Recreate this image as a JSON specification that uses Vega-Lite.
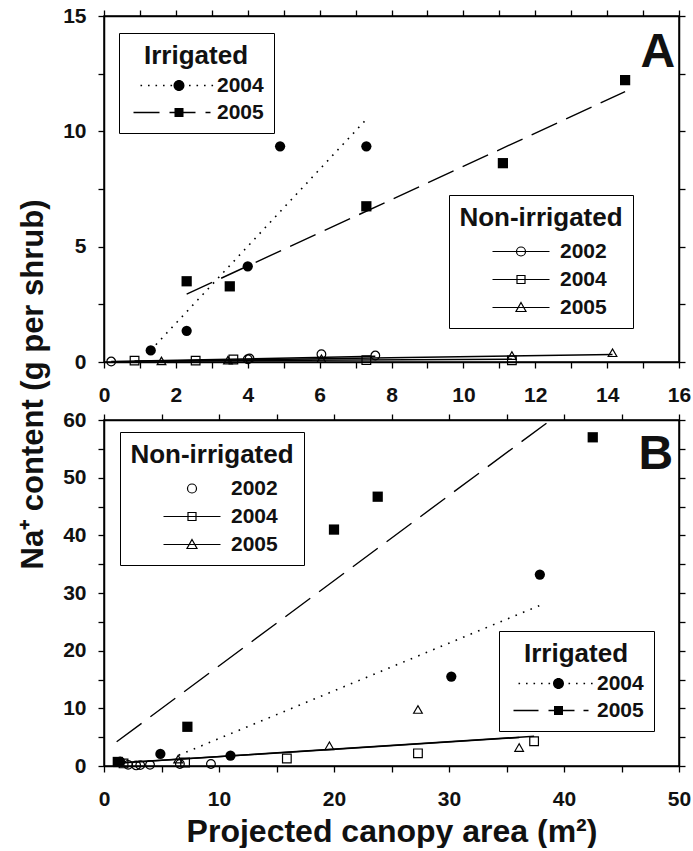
{
  "$schema": "https://vega.github.io/schema/vega-lite/v6.json",
  "background": "white",
  "padding": {"left": 16, "top": 4, "right": 5, "bottom": 0},
  "datasets": {
    "a_irr_pts": [
      {"year": "2004", "area": 1.3, "na": 0.5},
      {"year": "2004", "area": 2.3, "na": 1.35},
      {"year": "2004", "area": 4.0, "na": 4.15},
      {"year": "2004", "area": 4.9, "na": 9.35},
      {"year": "2004", "area": 7.3, "na": 9.35},
      {"year": "2005", "area": 2.3, "na": 3.5},
      {"year": "2005", "area": 3.5, "na": 3.28},
      {"year": "2005", "area": 7.3, "na": 6.75},
      {"year": "2005", "area": 11.1, "na": 8.62},
      {"year": "2005", "area": 14.5, "na": 12.22}
    ],
    "a_irr_fit": [
      {"year": "2004", "area": 1.3, "na": 0.51},
      {"year": "2004", "area": 7.3, "na": 10.52},
      {"year": "2005", "area": 2.3, "na": 2.94},
      {"year": "2005", "area": 14.5, "na": 11.72}
    ],
    "a_non_pts": [
      {"year": "2002", "area": 0.2, "na": 0.02},
      {"year": "2002", "area": 4.0, "na": 0.12},
      {"year": "2002", "area": 4.05, "na": 0.15},
      {"year": "2002", "area": 6.05, "na": 0.34},
      {"year": "2002", "area": 7.55, "na": 0.28},
      {"year": "2004", "area": 0.85, "na": 0.06},
      {"year": "2004", "area": 2.55, "na": 0.06},
      {"year": "2004", "area": 3.6, "na": 0.11},
      {"year": "2004", "area": 7.3, "na": 0.08},
      {"year": "2004", "area": 11.35, "na": 0.07},
      {"year": "2005", "area": 1.6, "na": 0.05},
      {"year": "2005", "area": 3.45, "na": 0.08},
      {"year": "2005", "area": 6.05, "na": 0.14},
      {"year": "2005", "area": 11.35, "na": 0.28},
      {"year": "2005", "area": 14.15, "na": 0.4}
    ],
    "a_non_fit": [
      {"year": "2002", "area": 0.2, "na": 0.02},
      {"year": "2002", "area": 7.55, "na": 0.25},
      {"year": "2004", "area": 0.85, "na": 0.04},
      {"year": "2004", "area": 11.35, "na": 0.12},
      {"year": "2005", "area": 1.6, "na": 0.04},
      {"year": "2005", "area": 14.15, "na": 0.32}
    ],
    "b_irr_pts": [
      {"year": "2004", "area": 1.4, "na": 0.75},
      {"year": "2004", "area": 4.9, "na": 2.1},
      {"year": "2004", "area": 11.0, "na": 1.8},
      {"year": "2004", "area": 30.2, "na": 15.5},
      {"year": "2004", "area": 37.9, "na": 33.2},
      {"year": "2005", "area": 1.2, "na": 0.7},
      {"year": "2005", "area": 7.25, "na": 6.8},
      {"year": "2005", "area": 20.0, "na": 41.0},
      {"year": "2005", "area": 23.8, "na": 46.7},
      {"year": "2005", "area": 42.5, "na": 57.0}
    ],
    "b_irr_fit": [
      {"year": "2004", "area": 6.5, "na": 1.87},
      {"year": "2004", "area": 37.85, "na": 27.8},
      {"year": "2005", "area": 1.1, "na": 4.2},
      {"year": "2005", "area": 38.85, "na": 60.0}
    ],
    "b_non_pts": [
      {"year": "2002", "area": 2.1, "na": 0.2},
      {"year": "2002", "area": 2.8, "na": 0.1},
      {"year": "2002", "area": 3.15, "na": 0.15},
      {"year": "2002", "area": 4.0, "na": 0.2},
      {"year": "2002", "area": 6.6, "na": 0.35},
      {"year": "2002", "area": 9.3, "na": 0.35},
      {"year": "2004", "area": 1.7, "na": 0.45},
      {"year": "2004", "area": 7.05, "na": 0.6},
      {"year": "2004", "area": 15.9, "na": 1.3},
      {"year": "2004", "area": 27.3, "na": 2.2},
      {"year": "2004", "area": 37.4, "na": 4.3},
      {"year": "2005", "area": 6.45, "na": 1.2},
      {"year": "2005", "area": 19.6, "na": 3.5},
      {"year": "2005", "area": 27.3, "na": 9.8},
      {"year": "2005", "area": 36.1, "na": 3.2}
    ],
    "b_non_fit": [
      {"year": "2004", "area": 0.8, "na": 0.47},
      {"year": "2004", "area": 37.4, "na": 5.15},
      {"year": "2005", "area": 0.8, "na": 0.45},
      {"year": "2005", "area": 36.1, "na": 4.95}
    ]
  },
  "config": {
    "font": "Liberation Sans",
    "view": {"stroke": "black", "strokeWidth": 1.5},
    "axis": {
      "domainColor": "black", "domainWidth": 1.5,
      "tickColor": "black", "tickWidth": 1.3, "tickSize": 6,
      "labelFont": "Liberation Sans", "labelFontWeight": "bold", "labelFontSize": 21,
      "labelColor": "#111", "labelFlush": false, "labelOverlap": false,
      "grid": false,
      "titleFont": "Liberation Sans", "titleFontWeight": "bold", "titleColor": "#111"
    },
    "axisX": {"labelPadding": 16},
    "axisY": {"labelPadding": 12},
    "legend": {
      "titleFont": "Liberation Sans", "titleFontSize": 26, "titleFontWeight": "bold", "titleColor": "#111",
      "labelFont": "Liberation Sans", "labelFontSize": 21, "labelFontWeight": "bold", "labelColor": "#111",
      "titleLimit": 0, "labelLimit": 0, "symbolSize": 4, "strokeColor": "black", "titleAnchor": "middle",
      "symbolOpacity": 1
    }
  },
  "spacing": 58,
  "bounds": "flush",
  "vconcat": [
    {
      "width": 575,
      "height": 346,
      "resolve": {
        "scale": {"shape": "independent"},
        "legend": {"shape": "independent"},
        "axis": {"x": "independent", "y": "independent"}
      },
      "layer": [
        {
          "data": {"name": "a_irr_fit"},
          "transform": [{"filter": "datum.year === '2004'"}],
          "mark": {"type": "line", "color": "black", "strokeWidth": 1.6, "strokeDash": [1.6, 6]},
          "encoding": {
            "x": {"field": "area", "type": "quantitative", "scale": {"domain": [0, 16], "nice": false},
              "axis": {"orient": "bottom", "title": null, "values": [0,1,2,3,4,5,6,7,8,9,10,11,12,13,14,15,16],
                "labelExpr": "datum.value % 2 === 0 ? datum.label : ''"}},
            "y": {"field": "na", "type": "quantitative", "scale": {"domain": [0, 15], "nice": false},
              "axis": {"orient": "left", "values": [0, 2.5, 5, 7.5, 10, 12.5, 15],
                "labelExpr": "datum.value % 5 === 0 ? datum.label : ''",
                "title": "Na⁺ content (g per shrub)", "titleFontSize": 31, "titleX": -71, "titleY": 368,
                "titleAngle": -90, "titleAlign": "center", "titleBaseline": "middle"}}
          }
        },
        {
          "data": {"name": "a_irr_fit"},
          "transform": [{"filter": "datum.year === '2005'"}],
          "mark": {"type": "line", "color": "black", "strokeWidth": 1.4, "strokeDash": [28, 10]},
          "encoding": {
            "x": {"field": "area", "type": "quantitative", "scale": {"domain": [0, 16], "nice": false},
              "axis": {"orient": "top", "title": null, "labels": false, "values": [0,1,2,3,4,5,6,7,8,9,10,11,12,13,14,15,16]}},
            "y": {"field": "na", "type": "quantitative", "scale": {"domain": [0, 15], "nice": false},
              "axis": {"orient": "right", "title": null, "labels": false, "values": [0, 2.5, 5, 7.5, 10, 12.5, 15]}}
          }
        },
        {
          "data": {"name": "a_non_fit"},
          "mark": {"type": "line", "color": "black", "strokeWidth": 1.5},
          "encoding": {
            "x": {"field": "area", "type": "quantitative", "scale": {"domain": [0, 16], "nice": false}, "axis": null},
            "y": {"field": "na", "type": "quantitative", "scale": {"domain": [0, 15], "nice": false}, "axis": null},
            "detail": {"field": "year"}
          }
        },
        {
          "data": {"name": "a_irr_pts"},
          "mark": {"type": "point", "filled": true, "color": "black", "opacity": 1, "size": 105},
          "encoding": {
            "x": {"field": "area", "type": "quantitative", "scale": {"domain": [0, 16], "nice": false}, "axis": null},
            "y": {"field": "na", "type": "quantitative", "scale": {"domain": [0, 15], "nice": false}, "axis": null},
            "shape": {"field": "year", "type": "nominal",
              "scale": {"domain": ["2004", "2005"], "range": ["circle", "square"]}, "legend": null}
          }
        },
        {
          "data": {"name": "a_non_pts"},
          "mark": {"type": "point", "filled": false, "color": "black", "opacity": 1, "strokeWidth": 1.2, "size": 75},
          "encoding": {
            "x": {"field": "area", "type": "quantitative", "scale": {"domain": [0, 16], "nice": false}, "axis": null},
            "y": {"field": "na", "type": "quantitative", "scale": {"domain": [0, 15], "nice": false}, "axis": null},
            "shape": {"field": "year", "type": "nominal",
              "scale": {"domain": ["2002", "2004", "2005"], "range": ["circle", "square", "triangle-up"]}, "legend": null}
          }
        },
        {
          "data": {"name": "a_irr_pts"},
          "transform": [{"filter": "false"}],
          "mark": {"type": "point", "filled": true, "color": "black", "strokeWidth": 0.4},
          "encoding": {
            "x": {"field": "area", "type": "quantitative", "scale": {"domain": [0, 16], "nice": false}, "axis": null},
            "y": {"field": "na", "type": "quantitative", "scale": {"domain": [0, 15], "nice": false}, "axis": null},
            "shape": {"field": "year", "type": "nominal",
              "scale": {"domain": ["2004", "2005"],
                "range": [
                  "M7,-0.8h1.6v1.6h-1.6z M14.5,-0.8h1.6v1.6h-1.6z M22,-0.8h1.6v1.6h-1.6z M29.5,-0.8h1.6v1.6h-1.6z M37,-0.8h1.6v1.6h-1.6z M40,0a5.5,5.5 0 1,0 11,0a5.5,5.5 0 1,0 -11,0z M55.5,-0.8h1.6v1.6h-1.6z M63,-0.8h1.6v1.6h-1.6z M70.5,-0.8h1.6v1.6h-1.6z M78,-0.8h1.6v1.6h-1.6z",
                  "M0,-0.75h26v1.5h-26z M36,-0.75h26v1.5h-26z M41,-4.5h9v9h-9z M72,-0.75h5v1.5h-5z"
                ]},
              "legend": {"title": "Irrigated", "orient": "none", "legendX": 15, "legendY": 17,
                "labelOffset": 73, "symbolOffset": -6, "rowPadding": 5, "padding": 10, "titlePadding": 6}}
          }
        },
        {
          "data": {"name": "a_non_pts"},
          "transform": [{"filter": "false"}],
          "mark": {"type": "point", "filled": false, "color": "black", "strokeWidth": 1.2},
          "encoding": {
            "x": {"field": "area", "type": "quantitative", "scale": {"domain": [0, 16], "nice": false}, "axis": null},
            "y": {"field": "na", "type": "quantitative", "scale": {"domain": [0, 15], "nice": false}, "axis": null},
            "shape": {"field": "year", "type": "nominal",
              "scale": {"domain": ["2002", "2004", "2005"],
                "range": [
                  "M0,0H57 M33,0a4.5,4.5 0 1,0 -9,0a4.5,4.5 0 1,0 9,0z",
                  "M0,0H57 M24.5,-4h8v8h-8z",
                  "M0,0H57 M28.5,-5L33.5,4H23.5z"
                ]},
              "legend": {"title": "Non-irrigated", "orient": "none", "legendX": 345, "legendY": 179,
                "labelOffset": 57, "symbolOffset": 6, "rowPadding": 6, "padding": 10, "titlePadding": 10,
                "symbolStrokeWidth": 1.2}}
          }
        },
        {
          "data": {"values": [{"tag": "A"}]},
          "mark": {"type": "text", "fontSize": 48, "fontWeight": "bold", "align": "right", "baseline": "alphabetic", "color": "#111"},
          "encoding": {
            "x": {"datum": 15.89, "type": "quantitative", "scale": {"domain": [0, 16], "nice": false}, "axis": null},
            "y": {"datum": 12.81, "type": "quantitative", "scale": {"domain": [0, 15], "nice": false}, "axis": null},
            "text": {"field": "tag"}
          }
        }
      ]
    },
    {
      "width": 575,
      "height": 346,
      "resolve": {
        "scale": {"shape": "independent"},
        "legend": {"shape": "independent"},
        "axis": {"x": "independent", "y": "independent"}
      },
      "layer": [
        {
          "data": {"name": "b_irr_fit"},
          "transform": [{"filter": "datum.year === '2004'"}],
          "mark": {"type": "line", "color": "black", "strokeWidth": 1.6, "strokeDash": [1.6, 6.5]},
          "encoding": {
            "x": {"field": "area", "type": "quantitative", "scale": {"domain": [0, 50], "nice": false},
              "axis": {"orient": "bottom", "values": [0,5,10,15,20,25,30,35,40,45,50],
                "labelExpr": "datum.value % 10 === 0 ? datum.label : ''",
                "title": "Projected canopy area (m²)", "titleFontSize": 32, "titlePadding": 7}},
            "y": {"field": "na", "type": "quantitative", "scale": {"domain": [0, 60], "nice": false},
              "axis": {"orient": "left", "title": null, "values": [0,5,10,15,20,25,30,35,40,45,50,55,60],
                "labelExpr": "datum.value % 10 === 0 ? datum.label : ''"}}
          }
        },
        {
          "data": {"name": "b_irr_fit"},
          "transform": [{"filter": "datum.year === '2005'"}],
          "mark": {"type": "line", "color": "black", "strokeWidth": 1.4, "strokeDash": [31, 11]},
          "encoding": {
            "x": {"field": "area", "type": "quantitative", "scale": {"domain": [0, 50], "nice": false},
              "axis": {"orient": "top", "title": null, "labels": false, "values": [0,5,10,15,20,25,30,35,40,45,50]}},
            "y": {"field": "na", "type": "quantitative", "scale": {"domain": [0, 60], "nice": false},
              "axis": {"orient": "right", "title": null, "labels": false, "values": [0,5,10,15,20,25,30,35,40,45,50,55,60]}}
          }
        },
        {
          "data": {"name": "b_non_fit"},
          "mark": {"type": "line", "color": "black", "strokeWidth": 1.5},
          "encoding": {
            "x": {"field": "area", "type": "quantitative", "scale": {"domain": [0, 50], "nice": false}, "axis": null},
            "y": {"field": "na", "type": "quantitative", "scale": {"domain": [0, 60], "nice": false}, "axis": null},
            "detail": {"field": "year"}
          }
        },
        {
          "data": {"name": "b_irr_pts"},
          "mark": {"type": "point", "filled": true, "color": "black", "opacity": 1, "size": 105},
          "encoding": {
            "x": {"field": "area", "type": "quantitative", "scale": {"domain": [0, 50], "nice": false}, "axis": null},
            "y": {"field": "na", "type": "quantitative", "scale": {"domain": [0, 60], "nice": false}, "axis": null},
            "shape": {"field": "year", "type": "nominal",
              "scale": {"domain": ["2004", "2005"], "range": ["circle", "square"]}, "legend": null}
          }
        },
        {
          "data": {"name": "b_non_pts"},
          "mark": {"type": "point", "filled": false, "color": "black", "opacity": 1, "strokeWidth": 1.2, "size": 75},
          "encoding": {
            "x": {"field": "area", "type": "quantitative", "scale": {"domain": [0, 50], "nice": false}, "axis": null},
            "y": {"field": "na", "type": "quantitative", "scale": {"domain": [0, 60], "nice": false}, "axis": null},
            "shape": {"field": "year", "type": "nominal",
              "scale": {"domain": ["2002", "2004", "2005"], "range": ["circle", "square", "triangle-up"]}, "legend": null}
          }
        },
        {
          "data": {"name": "b_irr_pts"},
          "transform": [{"filter": "false"}],
          "mark": {"type": "point", "filled": true, "color": "black", "strokeWidth": 0.4},
          "encoding": {
            "x": {"field": "area", "type": "quantitative", "scale": {"domain": [0, 50], "nice": false}, "axis": null},
            "y": {"field": "na", "type": "quantitative", "scale": {"domain": [0, 60], "nice": false}, "axis": null},
            "shape": {"field": "year", "type": "nominal",
              "scale": {"domain": ["2004", "2005"],
                "range": [
                  "M5,-0.8h1.6v1.6h-1.6z M12.5,-0.8h1.6v1.6h-1.6z M20,-0.8h1.6v1.6h-1.6z M27.5,-0.8h1.6v1.6h-1.6z M35,-0.8h1.6v1.6h-1.6z M39.5,0a5.5,5.5 0 1,0 11,0a5.5,5.5 0 1,0 -11,0z M55,-0.8h1.6v1.6h-1.6z M62.5,-0.8h1.6v1.6h-1.6z M70,-0.8h1.6v1.6h-1.6z M77.5,-0.8h1.6v1.6h-1.6z",
                  "M0,-0.75h25v1.5h-25z M35,-0.75h26v1.5h-26z M40.5,-4.5h9v9h-9z M70,-0.75h5v1.5h-5z"
                ]},
              "legend": {"title": "Irrigated", "orient": "none", "legendX": 395, "legendY": 211,
                "labelOffset": 73, "symbolOffset": -6, "rowPadding": 5, "padding": 10, "titlePadding": 6}}
          }
        },
        {
          "data": {"name": "b_non_pts"},
          "transform": [{"filter": "false"}],
          "mark": {"type": "point", "filled": false, "color": "black", "strokeWidth": 1.2},
          "encoding": {
            "x": {"field": "area", "type": "quantitative", "scale": {"domain": [0, 50], "nice": false}, "axis": null},
            "y": {"field": "na", "type": "quantitative", "scale": {"domain": [0, 60], "nice": false}, "axis": null},
            "shape": {"field": "year", "type": "nominal",
              "scale": {"domain": ["2002", "2004", "2005"],
                "range": [
                  "M33,0a4.5,4.5 0 1,0 -9,0a4.5,4.5 0 1,0 9,0z",
                  "M0,0H57 M24.5,-4h8v8h-8z",
                  "M0,0H57 M28.5,-5L33.5,4H23.5z"
                ]},
              "legend": {"title": "Non-irrigated", "orient": "none", "legendX": 16, "legendY": 12,
                "labelOffset": 57, "symbolOffset": 6, "rowPadding": 6, "padding": 10, "titlePadding": 10,
                "symbolStrokeWidth": 1.2}}
          }
        },
        {
          "data": {"values": [{"tag": "B"}]},
          "mark": {"type": "text", "fontSize": 48, "fontWeight": "bold", "align": "right", "baseline": "alphabetic", "color": "#111"},
          "encoding": {
            "x": {"datum": 49.5, "type": "quantitative", "scale": {"domain": [0, 50], "nice": false}, "axis": null},
            "y": {"datum": 51.5, "type": "quantitative", "scale": {"domain": [0, 60], "nice": false}, "axis": null},
            "text": {"field": "tag"}
          }
        }
      ]
    }
  ]
}
